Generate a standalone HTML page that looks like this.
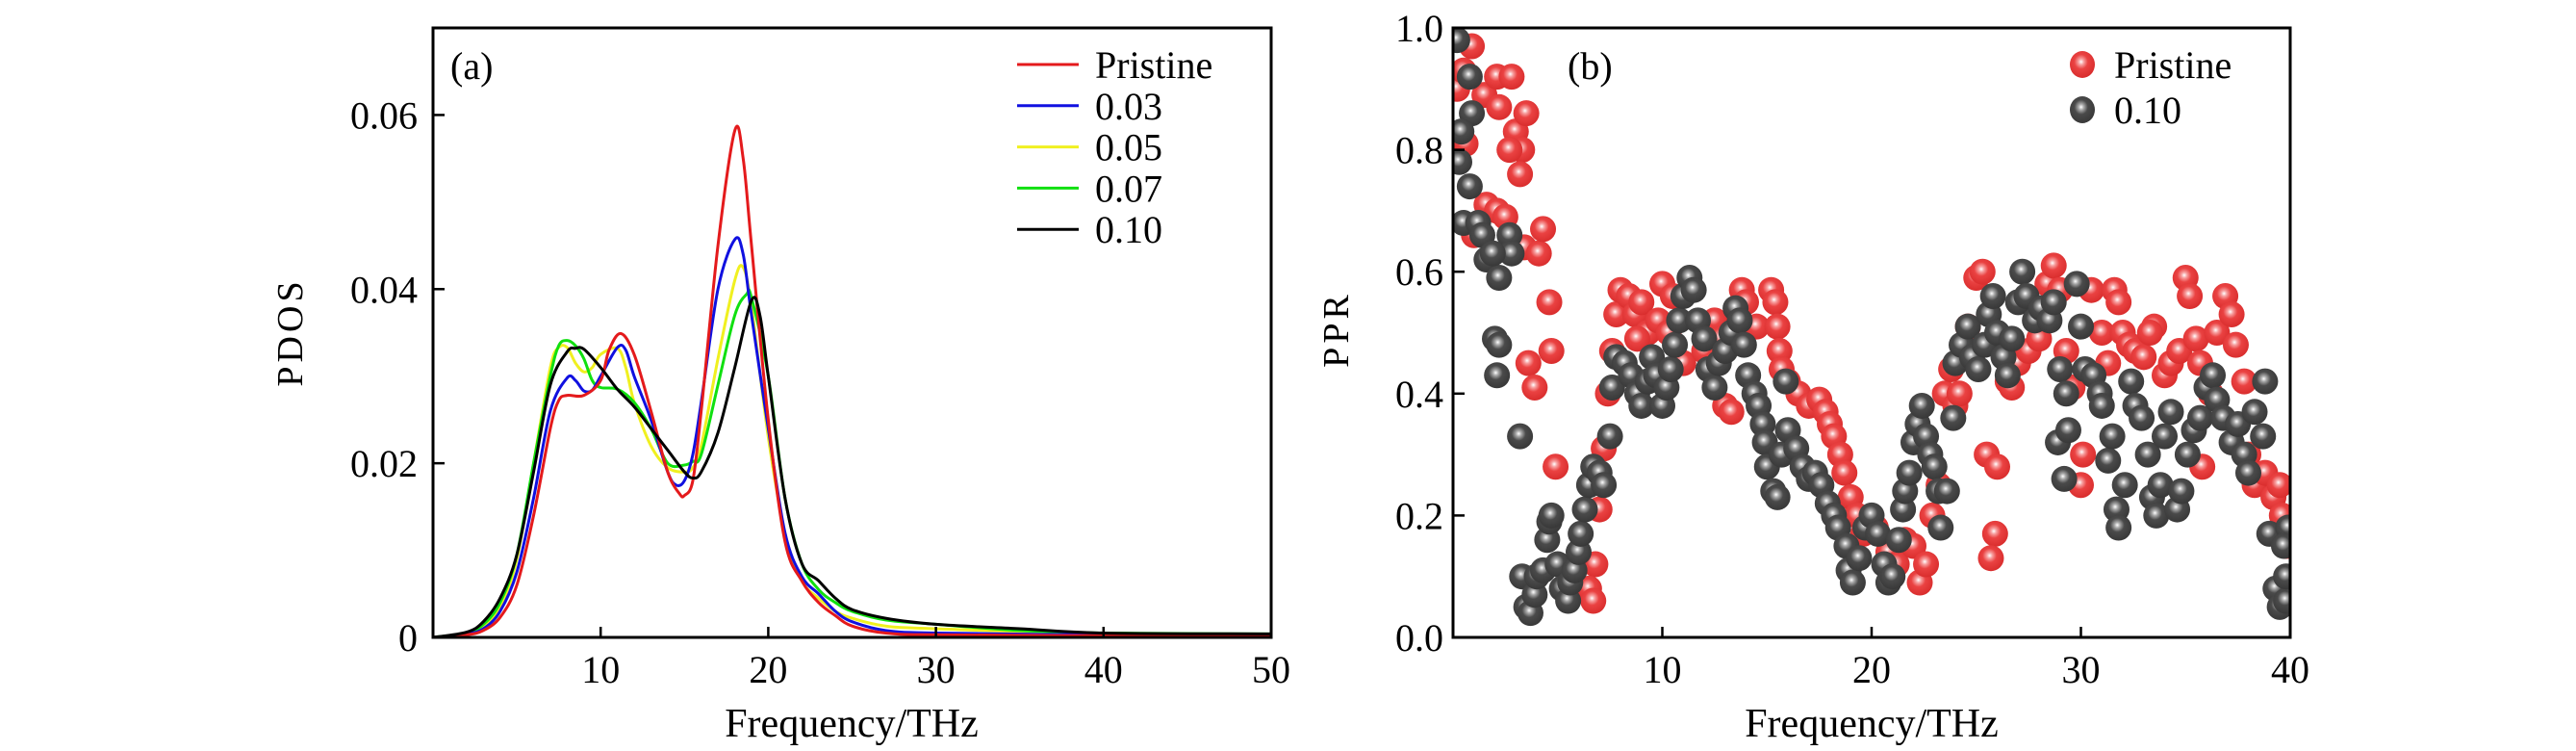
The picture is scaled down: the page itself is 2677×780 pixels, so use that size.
<!DOCTYPE html>
<html><head><meta charset="utf-8"><style>
html,body{margin:0;padding:0;background:#fff;}
svg{display:block;font-family:"Liberation Serif",serif;}
</style></head><body>
<svg id="fig" width="2677" height="780" viewBox="0 0 2677 780" xmlns="http://www.w3.org/2000/svg">
<defs>
<radialGradient id="gRed" cx="0.45" cy="0.4" r="0.6">
<stop offset="0" stop-color="#ffffff"/><stop offset="0.18" stop-color="#f7a0a0"/><stop offset="0.45" stop-color="#ea4242"/><stop offset="1" stop-color="#d92d2d"/></radialGradient>
<radialGradient id="gGray" cx="0.45" cy="0.4" r="0.6">
<stop offset="0" stop-color="#ffffff"/><stop offset="0.18" stop-color="#a8a8a8"/><stop offset="0.45" stop-color="#4a4a4a"/><stop offset="1" stop-color="#383838"/></radialGradient>
<clipPath id="clipA"><rect x="450" y="29" width="871" height="633"/></clipPath>
<clipPath id="clipB"><rect x="1510" y="29" width="870" height="633"/></clipPath>
</defs>
<g id="panelA"></g>
<g id="panelB"></g>
</svg>
<script>
// ---------- Panel (a) data ----------
const pdosLabels = ["Pristine","0.03","0.05","0.07","0.10"];
const pdosColors = ["#e41a1c","#1010e0","#f0f020","#10e010","#000000"];
const pdosFreqRed = [0,2,3,4,5,6,7,7.5,8,9,10,10.5,11.2,12,13,14,14.7,15,15.5,16,17,18,18.5,19,20,21,22,23,24,25,27,30,40,50];
const pdosRed = [0,0.0003,0.0008,0.0023,0.006,0.014,0.024,0.0272,0.0278,0.0278,0.0295,0.033,0.0349,0.0325,0.026,0.019,0.0165,0.0163,0.018,0.026,0.045,0.0582,0.055,0.045,0.025,0.011,0.0065,0.004,0.0025,0.0013,0.0005,0.0003,0.0002,0.0002];
const pdosFreqBlue = [0,2,3,4,5,6,7,8,8.5,9,9.5,10,11,11.5,12,13,14,14.5,15,15.5,16,17,18,18.5,19,20,21,22,23,24,25,27,30,40,50];
const pdosBlue = [0,0.0004,0.001,0.003,0.0075,0.016,0.026,0.0298,0.0295,0.0283,0.0284,0.030,0.0333,0.033,0.030,0.025,0.019,0.0175,0.018,0.021,0.027,0.040,0.0457,0.044,0.037,0.024,0.012,0.007,0.005,0.003,0.0018,0.0008,0.0005,0.0003,0.0003];
const pdosFreqYellow = [0,2,3,4,5,6,7,7.5,8,8.5,9,9.5,10,11,11.5,12,13,14,15,15.5,16,17,18,18.5,19,20,21,22,23,24,25,27,30,40,50];
const pdosYellow = [0,0.0004,0.0012,0.0035,0.009,0.02,0.031,0.0333,0.0333,0.0315,0.0305,0.031,0.0325,0.0332,0.031,0.027,0.022,0.0195,0.019,0.0195,0.022,0.032,0.041,0.0425,0.038,0.023,0.012,0.0065,0.0045,0.003,0.0022,0.0013,0.001,0.0004,0.0003];
const pdosFreqGreen = [0,2,3,4,5,6,7,7.5,8,8.5,9,9.5,10,11,12,13,14,15,15.5,16,17,18,18.7,19,20,21,22,23,24,25,27,30,35,40,50];
const pdosGreen = [0,0.0005,0.0015,0.004,0.0095,0.02,0.03,0.0335,0.0341,0.0335,0.032,0.0295,0.0287,0.0285,0.027,0.024,0.020,0.0198,0.0202,0.021,0.029,0.037,0.0394,0.039,0.030,0.016,0.0085,0.0055,0.004,0.003,0.002,0.0015,0.0008,0.0005,0.0004];
const pdosFreqBlack = [0,2,3,4,5,6,7,8,8.5,9,10,11,12,13,14,15,15.5,16,17,18,19,19.5,20,21,22,23,24,25,27,30,35,40,50];
const pdosBlack = [0,0.0006,0.0018,0.0045,0.0095,0.019,0.029,0.0328,0.0332,0.0331,0.031,0.0285,0.0265,0.024,0.0215,0.019,0.0183,0.019,0.0235,0.031,0.0387,0.037,0.030,0.016,0.0085,0.0065,0.0045,0.0032,0.0022,0.0015,0.001,0.0005,0.0004];
const pdosXTicks = [10,20,30,40,50];
const pdosYTicks = [0,0.02,0.04,0.06];
const pdosYTickLabels = ["0","0.02","0.04","0.06"];

// ---------- Panel (b) data ----------
const pprPristineFreq = [0.2,0.5,0.9,0.3,0.6,1.5,2.1,2.8,2.2,3.0,3.5,3.3,2.7,3.2,1.6,2.1,2.5,1.0,3.4,4.1,4.3,4.6,3.6,3.9,4.7,4.9,6.8,6.5,6.7,7.0,7.2,7.4,7.6,7.8,8.0,8.4,8.7,9.0,9.3,9.8,10.0,10.5,10.3,8.8,11.0,12.5,12.8,13.0,13.3,13.8,14.0,14.5,15.2,15.4,15.5,15.6,15.7,16.0,16.5,17.0,17.5,17.8,18.0,18.2,18.5,18.7,19.0,19.3,19.6,20.2,20.8,21.2,21.6,22.0,22.3,22.6,22.9,23.2,23.5,23.8,24.0,24.2,24.4,24.6,25.0,25.3,25.5,26.0,25.9,25.7,26.5,26.7,27.0,27.5,28.0,28.4,28.7,29.0,29.3,29.6,30.0,30.1,30.5,31.0,31.3,31.6,31.8,32.0,32.3,32.6,33.0,33.5,33.3,34.0,34.3,34.7,35.0,35.2,35.5,35.7,36.2,36.5,36.9,37.2,37.4,37.8,38.0,38.3,38.8,39.2,39.5,39.8,39.6,35.8,12.0];
const pprPristine = [0.90,0.93,0.97,0.82,0.81,0.89,0.92,0.92,0.87,0.83,0.86,0.80,0.80,0.76,0.71,0.70,0.69,0.66,0.64,0.63,0.67,0.55,0.45,0.41,0.47,0.28,0.12,0.08,0.06,0.21,0.31,0.40,0.47,0.53,0.57,0.56,0.53,0.55,0.50,0.52,0.58,0.56,0.50,0.49,0.45,0.52,0.49,0.38,0.37,0.57,0.55,0.51,0.57,0.55,0.51,0.47,0.44,0.42,0.40,0.38,0.39,0.37,0.35,0.33,0.30,0.27,0.23,0.20,0.17,0.18,0.14,0.12,0.16,0.15,0.09,0.12,0.20,0.25,0.40,0.44,0.38,0.40,0.48,0.51,0.59,0.60,0.30,0.28,0.17,0.13,0.42,0.41,0.45,0.47,0.49,0.58,0.61,0.57,0.47,0.41,0.25,0.30,0.57,0.50,0.45,0.57,0.55,0.50,0.48,0.47,0.46,0.51,0.50,0.43,0.45,0.47,0.59,0.56,0.49,0.45,0.40,0.50,0.56,0.53,0.48,0.42,0.30,0.25,0.27,0.23,0.25,0.15,0.20,0.28,0.47];
const ppr010Freq = [0.2,0.8,0.9,0.4,0.3,0.8,0.5,1.2,1.4,1.6,2.2,2.7,2.8,1.9,2.0,2.2,2.1,3.2,3.3,3.5,3.7,3.9,4.0,4.3,4.5,4.6,4.7,5.0,5.2,5.5,5.6,5.8,6.0,6.1,6.3,6.5,6.7,7.0,7.2,7.5,7.6,7.8,8.2,8.5,8.8,9.0,9.3,9.5,9.7,10.0,10.2,10.4,10.6,10.8,11.0,11.3,11.5,11.7,12.0,12.2,12.5,12.7,13.0,13.3,13.5,13.7,13.9,14.1,14.4,14.6,14.8,14.9,15.0,15.3,15.5,15.7,16.0,15.9,16.4,16.7,17.0,17.3,17.6,17.9,18.2,18.4,18.8,18.9,19.1,19.4,19.7,20.0,20.3,20.6,20.8,21.0,21.3,21.5,21.6,21.8,22.0,22.2,22.4,22.6,22.8,23.0,23.2,23.3,23.6,23.9,24.0,24.3,24.6,24.8,25.1,25.4,25.6,25.8,26.0,26.3,26.5,26.7,27.0,27.2,27.4,27.8,28.1,28.5,28.7,29.0,29.3,28.9,29.2,29.4,29.8,30.0,30.2,30.6,30.9,31.0,31.3,31.5,31.7,31.8,32.1,32.4,32.6,32.9,33.2,33.4,33.6,33.8,34.0,34.3,34.6,34.8,35.1,35.4,35.7,36.0,36.3,36.5,36.8,37.2,37.5,37.8,38.0,38.3,38.7,38.8,39.0,39.3,39.5,39.8,39.8,39.9,39.7];
const ppr010 = [0.98,0.92,0.86,0.83,0.78,0.74,0.68,0.68,0.66,0.62,0.59,0.66,0.63,0.63,0.49,0.48,0.43,0.33,0.10,0.05,0.04,0.07,0.10,0.11,0.16,0.19,0.20,0.12,0.08,0.06,0.09,0.11,0.14,0.17,0.21,0.25,0.28,0.27,0.25,0.33,0.41,0.46,0.45,0.43,0.40,0.38,0.42,0.46,0.43,0.38,0.41,0.44,0.48,0.52,0.56,0.59,0.57,0.52,0.49,0.44,0.41,0.45,0.47,0.50,0.54,0.52,0.48,0.43,0.40,0.38,0.35,0.32,0.28,0.24,0.23,0.30,0.34,0.42,0.31,0.28,0.26,0.27,0.25,0.22,0.20,0.18,0.15,0.11,0.09,0.13,0.18,0.20,0.17,0.12,0.09,0.10,0.16,0.21,0.24,0.27,0.32,0.35,0.38,0.33,0.30,0.28,0.24,0.18,0.24,0.36,0.45,0.48,0.51,0.46,0.44,0.48,0.53,0.56,0.50,0.46,0.43,0.49,0.55,0.60,0.56,0.52,0.54,0.52,0.55,0.44,0.40,0.32,0.26,0.34,0.58,0.51,0.44,0.43,0.40,0.38,0.29,0.33,0.21,0.18,0.25,0.42,0.38,0.36,0.30,0.23,0.20,0.25,0.33,0.37,0.21,0.24,0.30,0.34,0.36,0.41,0.43,0.39,0.36,0.32,0.35,0.30,0.27,0.37,0.33,0.42,0.17,0.08,0.05,0.06,0.10,0.18,0.15];
const pprXTicks = [10,20,30,40];
const pprYTicks = [0,0.2,0.4,0.6,0.8,1.0];
const pprYTickLabels = ["0.0","0.2","0.4","0.6","0.8","1.0"];

const NS = "http://www.w3.org/2000/svg";
function mk(tag, attrs, parent){const e=document.createElementNS(NS,tag);for(const k in attrs)e.setAttribute(k,attrs[k]);parent.appendChild(e);return e;}

const aL=450,aR=1321,aT=29,aB=662;
const xA = f => aL + (f-0)/(50-0)*(aR-aL);
const yA = v => aB - v/0.07*(aB-aT);
const bL=1510,bR=2380,bT=29,bB=662;
const xB = f => bL + f/40*(bR-bL);
const yB = v => bB - v/1.0*(bB-bT);
const FS = 40;
const R = 13.5;

function smoothPath(xs, ys, fx, fy){
  const p = xs.map((x,i)=>[fx(x),fy(ys[i])]);
  let d = "M"+p[0][0].toFixed(1)+","+p[0][1].toFixed(1);
  for(let i=0;i<p.length-1;i++){
    const p0=p[Math.max(0,i-1)],p1=p[i],p2=p[i+1],p3=p[Math.min(p.length-1,i+2)];
    const c1=[p1[0]+(p2[0]-p0[0])/6,p1[1]+(p2[1]-p0[1])/6];
    const c2=[p2[0]-(p3[0]-p1[0])/6,p2[1]-(p3[1]-p1[1])/6];
    d+=" C"+c1[0].toFixed(1)+","+c1[1].toFixed(1)+" "+c2[0].toFixed(1)+","+c2[1].toFixed(1)+" "+p2[0].toFixed(1)+","+p2[1].toFixed(1);
  }
  return d;
}

// ----- Panel A -----
const A=document.getElementById("panelA");
const curvesA = mk("g",{"clip-path":"url(#clipA)"},A);


const seriesX=[pdosFreqRed,pdosFreqBlue,pdosFreqYellow,pdosFreqGreen,pdosFreqBlack];
const seriesY=[pdosRed,pdosBlue,pdosYellow,pdosGreen,pdosBlack];
[2,3,1,0,4].forEach(i=>{
  const p=mk("path",{d:smoothPath(seriesX[i],seriesY[i],xA,yA),fill:"none",stroke:pdosColors[i],"stroke-width":"3","stroke-linejoin":"round"},curvesA);
  
  
});
const frameA=mk("rect",{x:aL,y:aT,width:aR-aL,height:aB-aT,fill:"none",stroke:"#000","stroke-width":"3"},A);


pdosXTicks.forEach(t=>{
  const x=xA(t);
  const l=mk("line",{x1:x,x2:x,y1:aB,y2:aB-11,stroke:"#000","stroke-width":"2.5"},A);
  
  
  const tx=mk("text",{x:x,y:709,"font-size":FS,"text-anchor":"middle"},A);
  tx.textContent=t;
  
  
});
pdosYTicks.forEach((t,i)=>{
  const y=yA(t);
  const l=mk("line",{x1:aL,x2:aL+12,y1:y,y2:y,stroke:"#000","stroke-width":"2.5"},A);
  
  
  const tx=mk("text",{x:434,y:y+14,"font-size":FS,"text-anchor":"end"},A);
  tx.textContent=pdosYTickLabels[i];
  
  
});
const xtA=mk("text",{x:885,y:765,"font-size":"42","text-anchor":"middle"},A);
xtA.textContent="Frequency/THz";


const ytA=mk("text",{x:0,y:0,"font-size":"38","text-anchor":"middle","letter-spacing":"4",transform:"translate(314,345) rotate(-90)"},A);
ytA.textContent="PDOS";


const pa=mk("text",{x:468,y:82,"font-size":FS},A);
pa.textContent="(a)";


const legA=mk("g",{},A);


pdosLabels.forEach((lab,i)=>{
  const y=67+i*42.8;
  const e=mk("g",{},legA);
  
  
  mk("line",{x1:1057,x2:1121,y1:y,y2:y,stroke:pdosColors[i],"stroke-width":"3"},e);
  const t=mk("text",{x:1138,y:y+14,"font-size":FS},e);
  t.textContent=lab;
});

// ----- Panel B -----
const B=document.getElementById("panelB");
const pts=mk("g",{"clip-path":"url(#clipB)"},B);


pprPristineFreq.forEach((f,i)=>{
  const c=mk("circle",{cx:xB(f),cy:yB(pprPristine[i]),r:R,fill:"url(#gRed)"},pts);
  
  
});
ppr010Freq.forEach((f,i)=>{
  const c=mk("circle",{cx:xB(f),cy:yB(ppr010[i]),r:R,fill:"url(#gGray)"},pts);
  
  
});
const frameB=mk("rect",{x:bL,y:bT,width:bR-bL,height:bB-bT,fill:"none",stroke:"#000","stroke-width":"3"},B);


pprXTicks.forEach(t=>{
  const x=xB(t);
  const l=mk("line",{x1:x,x2:x,y1:bB,y2:bB-11,stroke:"#000","stroke-width":"2.5"},B);
  
  
  const tx=mk("text",{x:x,y:709,"font-size":FS,"text-anchor":"middle"},B);
  tx.textContent=t;
  
  
});
pprYTicks.forEach((t,i)=>{
  const y=yB(t);
  const l=mk("line",{x1:bL,x2:bL+12,y1:y,y2:y,stroke:"#000","stroke-width":"2.5"},B);
  
  
  const tx=mk("text",{x:1500,y:y+14,"font-size":FS,"text-anchor":"end"},B);
  tx.textContent=pprYTickLabels[i];
  
  
});
const xtB=mk("text",{x:1945,y:765,"font-size":"42","text-anchor":"middle"},B);
xtB.textContent="Frequency/THz";


const ytB=mk("text",{x:0,y:0,"font-size":"38","text-anchor":"middle","letter-spacing":"4",transform:"translate(1401,342) rotate(-90)"},B);
ytB.textContent="PPR";


const pb=mk("text",{x:1629,y:82,"font-size":FS},B);
pb.textContent="(b)";


const legB=mk("g",{},B);


[["Pristine","url(#gRed)"],["0.10","url(#gGray)"]].forEach((e,i)=>{
  const y=67+i*47;
  const g=mk("g",{},legB);
  
  
  mk("ellipse",{cx:2164,cy:y,rx:13,ry:14,fill:e[1]},g);
  const t=mk("text",{x:2197,y:y+14,"font-size":FS},g);
  t.textContent=e[0];
});
</script>
</body></html>
